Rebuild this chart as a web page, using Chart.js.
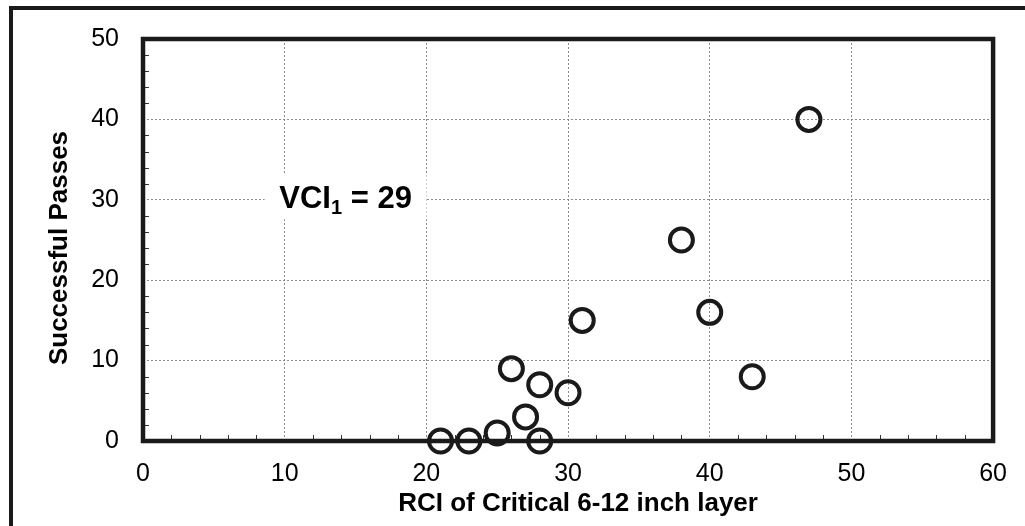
<!DOCTYPE html>
<html>
<head>
<meta charset="utf-8">
<script src="https://cdn.jsdelivr.net/npm/chart.js@4/dist/chart.umd.min.js"></script>
<style>
  html, body { margin: 0; padding: 0; background: #ffffff; }
  canvas { display: block; }
</style>
</head>
<body>
<canvas id="c" width="1025" height="526"></canvas>
<script>
// ---- data ----
const rciValues    = [21, 23, 25, 28, 27, 26, 28, 30, 31, 38, 40, 43, 47];
const passesValues = [ 0,  0,  1,  0,  3,  9,  7,  6, 15, 25, 16,  8, 40];
const xTitle = 'RCI of Critical 6-12 inch layer';
const yTitle = 'Successful Passes';
const noteMain = 'VCI';
const noteSub = '1';
const noteTail = ' = 29';
const noteAnchor = [14.3, 30.3];

const FONT = '"Liberation Sans", Arial, sans-serif';
const INK = '#1a1a1a';

const points = rciValues.map((x, i) => ({ x: x, y: passesValues[i] }));

const decor = {
  id: 'decor',
  beforeDraw(chart) {
    const ctx = chart.ctx;
    ctx.save();
    ctx.fillStyle = '#ffffff';
    ctx.fillRect(0, 0, chart.width, chart.height);
    // outer frame (left and top visible)
    ctx.strokeStyle = INK;
    ctx.lineWidth = 4;
    ctx.beginPath();
    ctx.moveTo(11, chart.height + 5);
    ctx.lineTo(11, 8);
    ctx.lineTo(chart.width + 5, 8);
    ctx.stroke();
    ctx.restore();
  },
  afterDraw(chart) {
    const ctx = chart.ctx;
    const a = chart.chartArea;
    const xs = chart.scales.x, ys = chart.scales.y;
    ctx.save();
    // minor ticks
    ctx.strokeStyle = '#333333';
    ctx.lineWidth = 1;
    ctx.beginPath();
    for (let v = 2; v < 60; v += 2) {
      if (v % 10 === 0) continue;
      const px = Math.round(xs.getPixelForValue(v)) + 0.5;
      ctx.moveTo(px, a.bottom);
      ctx.lineTo(px, a.bottom - 6);
    }
    for (let v = 2; v < 50; v += 2) {
      if (v % 10 === 0) continue;
      const py = Math.round(ys.getPixelForValue(v)) + 0.5;
      ctx.moveTo(a.left, py);
      ctx.lineTo(a.left + 6, py);
    }
    ctx.stroke();
    // plot frame
    ctx.strokeStyle = INK;
    ctx.lineWidth = 4.5;
    ctx.strokeRect(a.left, a.top, a.right - a.left, a.bottom - a.top);

    // note label
    const cx = xs.getPixelForValue(noteAnchor[0]);
    const cy = ys.getPixelForValue(noteAnchor[1]);
    ctx.font = 'bold 31px ' + FONT;
    const wMain = ctx.measureText(noteMain).width;
    const wTail = ctx.measureText(noteTail).width;
    ctx.font = 'bold 20px ' + FONT;
    const wSub = ctx.measureText(noteSub).width;
    const total = wMain + wSub + wTail;
    ctx.fillStyle = '#ffffff';
    ctx.fillRect(cx - 81, cy - 23, 162, 45);
    let tx = cx - total / 2;
    const base = cy + 11;
    ctx.fillStyle = '#000000';
    ctx.textBaseline = 'alphabetic';
    ctx.textAlign = 'left';
    ctx.font = 'bold 31px ' + FONT;
    ctx.fillText(noteMain, tx, base);
    tx += wMain;
    ctx.font = 'bold 20px ' + FONT;
    ctx.fillText(noteSub, tx, base + 6);
    tx += wSub;
    ctx.font = 'bold 31px ' + FONT;
    ctx.fillText(noteTail, tx, base);

    // axis titles
    ctx.font = 'bold 26px ' + FONT;
    ctx.textAlign = 'center';
    ctx.textBaseline = 'alphabetic';
    ctx.fillText(xTitle, (a.left + a.right) / 2 + 10, 511);
    ctx.translate(67, (a.top + a.bottom) / 2 + 8);
    ctx.rotate(-Math.PI / 2);
    ctx.fillText(yTitle, 0, 0);
    ctx.restore();
  }
};

new Chart(document.getElementById('c'), {
  type: 'scatter',
  data: {
    datasets: [{
      data: points,
      pointStyle: 'circle',
      pointRadius: 11.5,
      pointHoverRadius: 11.5,
      pointBorderWidth: 4,
      pointHoverBorderWidth: 4,
      borderColor: INK,
      backgroundColor: 'rgba(0,0,0,0)',
      clip: false
    }]
  },
  options: {
    responsive: false,
    animation: false,
    events: [],
    layout: { padding: { top: 36, right: 30, left: 0, bottom: 0 } },
    plugins: { legend: { display: false }, tooltip: { enabled: false } },
    scales: {
      x: {
        type: 'linear',
        min: 0, max: 60,
        afterFit: s => { s.height = 85; },
        ticks: { stepSize: 10, padding: 18, color: '#000', font: { family: FONT, size: 25 } },
        grid: { color: '#8a8a8a', lineWidth: 1, drawTicks: false },
        border: { display: false, dash: [2, 2] },
        title: { display: false }
      },
      y: {
        type: 'linear',
        min: 0, max: 50,
        afterFit: s => { s.width = 143; },
        ticks: { stepSize: 10, padding: 24, color: '#000', font: { family: FONT, size: 25 } },
        grid: { color: '#8a8a8a', lineWidth: 1, drawTicks: false },
        border: { display: false, dash: [2, 2] },
        title: { display: false }
      }
    }
  },
  plugins: [decor]
});
</script>
</body>
</html>
